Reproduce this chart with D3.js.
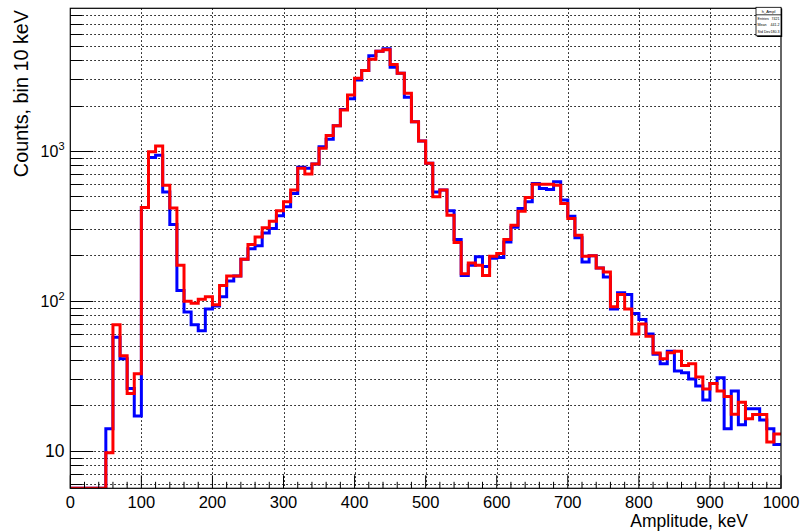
<!DOCTYPE html>
<html><head><meta charset="utf-8">
<script src="https://cdn.jsdelivr.net/npm/d3@7"></script>
<style>
body{margin:0;background:#fff}
svg{display:block}
text{font-family:"Liberation Sans",Arial,Helvetica,sans-serif;fill:#000}
</style>
</head><body>
<svg id="c" width="805" height="532"></svg>
<script>
// ---- data ----
const binWidth = 10;                       // keV
const xTickValues = [0,100,200,300,400,500,600,700,800,900,1000];
const yTickValues = [10,100,1000];
const yTickLabels = [["10",""],["10","2"],["10","3"]];
const xTitle = "Amplitude, keV";
const yTitle = "Counts, bin 10 keV";
const statsRows = [["Entries","7421"],["Mean","441.2"],["Std Dev","180.3"]];
const statsName = "h_Ampl";

const blueCounts = [
  0,0,0,0,0,14,57,41,26,17,
  418,902,933,531,322,117,84,69,63,88,
  92,106,135,146,189,222,232,283,303,368,
  422,519,774,762,815,1061,1190,1467,1880,2221,
  2964,3420,4285,4603,4772,3600,3283,2271,1559,1158,
  823,531,546,397,256,147,172,196,169,192,
  194,246,309,412,456,605,560,551,621,468,
  366,263,181,199,165,144,88,113,110,82,
  75,60,44,38,46,34,33,30,27,21.8,
  28,30.6,14,25,14.9,19,19,16,14,11
];
const redCounts = [
  0,0,0,0,0,9.7,69,43,24,32.5,
  418,984,1075,589,415,172,99,96,102,106,
  94,126,146,146,189,237,266,306,339,397,
  456,546,762,698,815,1036,1260,1467,1866,2350,
  3043,3420,4074,4603,4700,3760,3283,2415,1559,1158,
  823,492,546,371,244,151,178,172,147,198,
  206,256,318,395,488,598,598,598,589,445,
  353,273,198,199,165,155,91,110,88,60,
  70,58,44.7,41,45,46,37,38,31,25.8,
  28,25,23,17.5,21,16.3,17.4,17.4,11.4,12.9
];

// ---- layout ----
const L = 70.3, R = 781, T = 8.3, B = 488.3;
const yMin = 5.61, yMax = 8894;
const svg = d3.select("#c");
const x = d3.scaleLinear().domain([0,1000]).range([L,R]);
const y = d3.scaleLog().domain([yMin,yMax]).range([B,T]);

svg.append("defs").append("clipPath").attr("id","plot")
  .append("rect").attr("x",L).attr("y",T).attr("width",R-L).attr("height",B-T);

// y ticks (major + minor)
const yAll = [];
for (let e=0;e<=4;e++) for (let m=1;m<=9;m++){ const v=m*Math.pow(10,e); if(v>=yMin && v<=yMax) yAll.push(v); }
const xMinor = d3.range(0,1001,20);

// grid
const grid = svg.append("g").attr("stroke","#000").attr("stroke-width",1).attr("stroke-dasharray","1.5,2.5");
grid.selectAll("line.h").data(yAll).join("line").attr("class","h")
  .attr("x1",L).attr("x2",R).attr("y1",d=>Math.round(y(d))+0.5).attr("y2",d=>Math.round(y(d))+0.5);
grid.selectAll("line.v").data(xTickValues.filter(d=>d>0&&d<1000)).join("line").attr("class","v")
  .attr("y1",T).attr("y2",B).attr("x1",d=>Math.round(x(d))+0.5).attr("x2",d=>Math.round(x(d))+0.5);

// histograms
function stepPath(arr){
  const pts = arr.map((v,i)=>[i*binWidth, Math.max(v,yMin)]);
  pts.push([arr.length*binWidth, Math.max(arr[arr.length-1],yMin)]);
  return d3.line().x(d=>x(d[0])).y(d=>y(d[1])).curve(d3.curveStepAfter)(pts);
}
const hg = svg.append("g").attr("clip-path","url(#plot)");
hg.append("path").attr("d",stepPath(blueCounts)).attr("fill","none")
  .attr("stroke","#0000ff").attr("stroke-width",3).attr("stroke-linejoin","miter");
hg.append("path").attr("d",stepPath(redCounts)).attr("fill","none")
  .attr("stroke","#ff0000").attr("stroke-width",3).attr("stroke-linejoin","miter");

// axes ticks
const ax = svg.append("g").attr("stroke","#000").attr("stroke-width",1);
ax.selectAll("line.xm").data(xMinor).join("line").attr("class","xm")
  .attr("x1",d=>x(d)).attr("x2",d=>x(d)).attr("y1",B).attr("y2",d=>B-(d%100===0?13:6.5));
ax.selectAll("line.ym").data(yAll).join("line").attr("class","ym")
  .attr("y1",d=>Math.round(y(d))+0.5).attr("y2",d=>Math.round(y(d))+0.5)
  .attr("x1",L).attr("x2",d=>L+(yTickValues.includes(d)?23:12));

// frame
svg.append("rect").attr("x",L).attr("y",T).attr("width",R-L).attr("height",B-T)
  .attr("fill","none").attr("stroke","#000").attr("stroke-width",1.2);

// x tick labels
svg.append("g").selectAll("text").data(xTickValues).join("text")
  .attr("x",d=>x(d)).attr("y",507.5).attr("text-anchor","middle")
  .attr("font-size",16.5).text(d=>d);

// y tick labels
const yl = svg.append("g").selectAll("text").data(yTickValues).join("text")
  .attr("x",64.5).attr("y",d=>y(d)+6.5).attr("text-anchor","end");
yl.each(function(d,i){
  const t = d3.select(this), lab = yTickLabels[i];
  if (lab[1]===""){ t.attr("font-size",17.5).text(lab[0]); }
  else {
    t.attr("font-size",16).append("tspan").text(lab[0]);
    t.append("tspan").attr("font-size",11).attr("dy",-7).text(lab[1]);
  }
});

// axis titles
svg.append("text").attr("x",748).attr("y",527).attr("text-anchor","end")
  .attr("font-size",17.5).text(xTitle);
svg.append("text").attr("transform","translate(27.5,10) rotate(-90)")
  .attr("text-anchor","end").attr("font-size",19.8).text(yTitle);

// stats box
const sb = svg.append("g");
const sx = 756, sy = 7.3, sw = 25, sh = 28.5;
sb.append("rect").attr("x",sx+1.2).attr("y",sy+1.2).attr("width",sw).attr("height",sh).attr("fill","#000");
sb.append("rect").attr("x",sx).attr("y",sy).attr("width",sw).attr("height",sh)
  .attr("fill","#fff").attr("stroke","#000").attr("stroke-width",0.8);
sb.append("line").attr("x1",sx).attr("x2",sx+sw).attr("y1",sy+7.5).attr("y2",sy+7.5)
  .attr("stroke","#000").attr("stroke-width",0.8);
sb.append("text").attr("x",sx+sw/2).attr("y",sy+5.5).attr("text-anchor","middle")
  .attr("font-size",4).text(statsName);
statsRows.forEach((r,i)=>{
  sb.append("text").attr("x",sx+1.5).attr("y",sy+12.5+i*6.6).attr("font-size",3.6).text(r[0]);
  sb.append("text").attr("x",sx+sw-1.5).attr("y",sy+12.5+i*6.6).attr("font-size",3.6)
    .attr("text-anchor","end").text(r[1]);
});
</script>
</body></html>
